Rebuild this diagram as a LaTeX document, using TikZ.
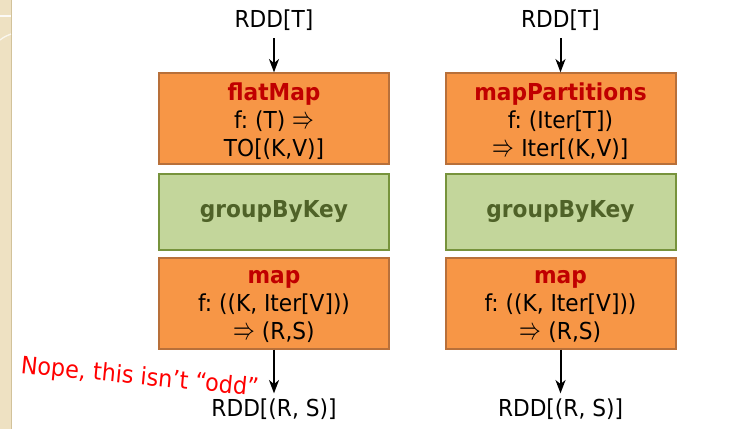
\documentclass[tikz,border=0pt]{standalone}
\usepackage{fontspec}
\setmainfont{DejaVu Sans}[FakeStretch=0.93]
\usetikzlibrary{arrows.meta}
\definecolor{boxorange}{HTML}{F79646}
\definecolor{boxorangeline}{HTML}{B8703A}
\definecolor{greenfill}{HTML}{C3D69B}
\definecolor{greenline}{HTML}{77933C}
\definecolor{greentext}{HTML}{4F6228}
\definecolor{titlered}{HTML}{C00000}
\definecolor{notered}{HTML}{FF0000}
\definecolor{strip}{HTML}{EEE1C2}
\definecolor{stripline}{HTML}{D2C29A}
\frenchspacing
\newcommand{\darr}{\resizebox{16.3pt}{8.6pt}{\(\Rightarrow\)}}
\begin{document}
\begin{tikzpicture}[x=0.75pt,y=-0.75pt,
  mainfont/.style={font=\fontsize{17.5}{21}\selectfont},
  obox/.style={draw=boxorangeline, fill=boxorange, line width=1.5pt,
    minimum width=172.5pt, minimum height=68pt, inner sep=0pt},
  gbox/.style={draw=greenline, fill=greenfill, line width=1.5pt,
    minimum width=172.5pt, minimum height=57pt, align=center, inner sep=0pt, mainfont,
    text=greentext},
  btext/.style={align=center, inner sep=0pt, mainfont},
  lbl/.style={inner sep=0pt, mainfont},
  arr/.style={-{Stealth[length=10pt,width=7.5pt,inset=3pt]}, line width=1.5pt}
]
\useasboundingbox (0,0) rectangle (750,429);
\fill[white] (0,0) rectangle (750,429);
% left decorative strip
\fill[strip] (0,0) rectangle (11,429);
\draw[stripline, line width=1.2pt] (11.5,0) -- (11.5,429);
\draw[white!85!strip, line width=1.5pt] (0,16) -- (11,16);
\draw[white!70!strip, line width=1pt] (0,40) .. controls (4,37) .. (11,34);

% left column
\node[lbl, anchor=base] (tl) at (274,27.7) {RDD[T]};
\node[obox] (fm) at (274,118.7) {};
\node[btext] (fmt) at ([yshift=-2.2pt]fm.center) {\textcolor{titlered}{\bfseries flatMap}\\f: (T) \darr\\TO[(K,V)]};
\node[gbox] (gl) at (274,212) {\bfseries groupByKey};
\node[obox] (ml) at (274,303.2) {};
\node[btext] (mlt) at ([yshift=-2.2pt]ml.center) {\textcolor{titlered}{\bfseries map}\\f: ((K, Iter[V]))\\\darr{} (R,S)};
\node[lbl, anchor=base] (bl) at (274,416.7) {RDD[(R, S)]};
\draw[arr, shorten <=5.5pt] (tl.south) -- (fm.north);
\draw[arr, shorten >=4pt] (ml.south) -- (bl.north);

% right column
\node[lbl, anchor=base] (tr) at (560.5,27.7) {RDD[T]};
\node[obox] (mp) at (560.5,118.7) {};
\node[btext] (mpt) at ([yshift=-2.2pt]mp.center) {\textcolor{titlered}{\bfseries mapPartitions}\\f: (Iter[T])\\\darr{} Iter[(K,V)]};
\node[gbox] (gr) at (560.5,212) {\bfseries groupByKey};
\node[obox] (mr) at (560.5,303.2) {};
\node[btext] (mrt) at ([yshift=-2.2pt]mr.center) {\textcolor{titlered}{\bfseries map}\\f: ((K, Iter[V]))\\\darr{} (R,S)};
\node[lbl, anchor=base] (br) at (560.5,416.7) {RDD[(R, S)]};
\draw[arr, shorten <=5.5pt] (tr.south) -- (mp.north);
\draw[arr, shorten >=4pt] (mr.south) -- (br.north);

% note
\node[inner sep=0pt, anchor=base west, rotate=-5.5, text=notered,
  font=\fontsize{18}{22}\selectfont] (note) at (20,373) {Nope, this isn’t “odd”};
\end{tikzpicture}
\end{document}
